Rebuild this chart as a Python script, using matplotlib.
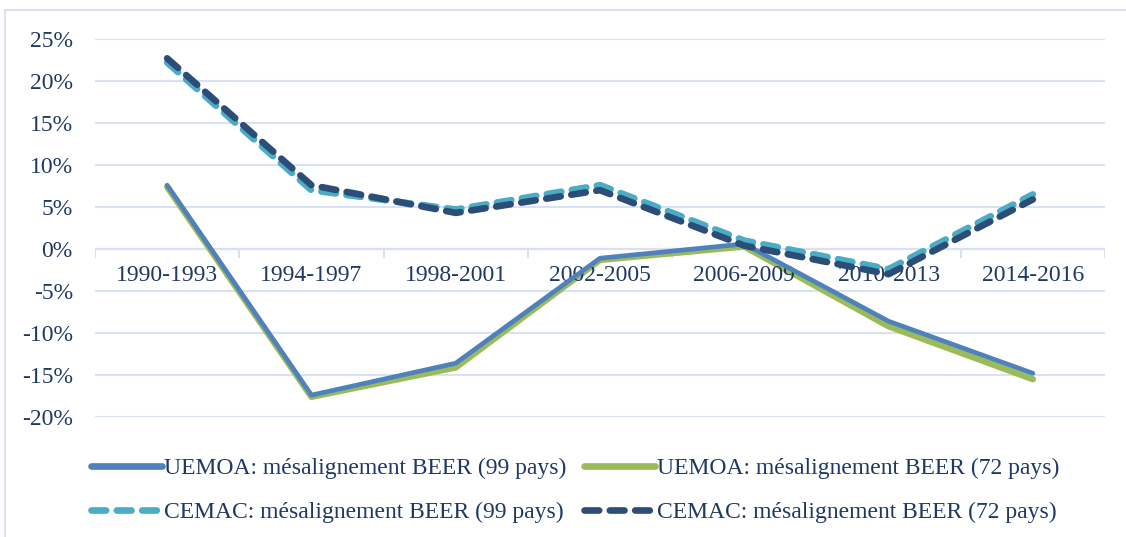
import matplotlib
matplotlib.use("Agg")
import matplotlib.pyplot as plt
from matplotlib.patches import Rectangle

# Data (misalignment, %)
periods = ['1990-1993', '1994-1997', '1998-2001', '2002-2005', '2006-2009', '2010-2013', '2014-2016']
uemoa_99 = [7.6, -17.4, -13.6, -1.1, 0.6, -8.6, -14.8]
uemoa_72 = [7.4, -17.6, -14.1, -1.3, 0.3, -9.2, -15.5]
cemac_99 = [22.2, 7.0, 4.7, 7.6, 1.0, -2.4, 6.5]
cemac_72 = [22.7, 7.6, 4.3, 7.0, 0.4, -3.0, 5.9]

labels = ['UEMOA: mésalignement BEER (99 pays)', 'UEMOA: mésalignement BEER (72 pays)',
          'CEMAC: mésalignement BEER (99 pays)', 'CEMAC: mésalignement BEER (72 pays)']
colors = ['#4F81BD', '#9BBB59', '#4BACC6', '#2C4D75']

TXT = '#203864'
GRID = '#D9E2F3'

plt.rcParams['font.family'] = ['Liberation Serif', 'DejaVu Serif']

fig = plt.figure(figsize=(11.26, 5.37), dpi=100)
fig.patches.append(Rectangle((5 / 1126, -0.1), 1.2, 1 - 10 / 537 + 0.1, transform=fig.transFigure,
                             fill=False, edgecolor=GRID, linewidth=1.5))
ax = fig.add_axes([95 / 1126, 1 - 417 / 537, 1010 / 1126, 378 / 537])

x = list(range(len(periods)))
l1, = ax.plot(x, uemoa_99, color=colors[0], lw=3.4, solid_capstyle='round', zorder=4)
l2, = ax.plot(x, uemoa_72, color=colors[1], lw=4.6, solid_capstyle='round', zorder=3)
l3, = ax.plot(x, cemac_99, color=colors[2], lw=4.8, ls=(0, (2.2, 1.6)), dash_capstyle='round', zorder=5)
l4, = ax.plot(x, cemac_72, color=colors[3], lw=4.8, ls=(0, (2.2, 1.6)), dash_capstyle='round', zorder=6)

ax.set_xlim(-0.5, len(periods) - 0.5)
ax.set_ylim(-20, 25)
ax.set_yticks(range(-20, 30, 5))
ax.set_yticklabels([f'{v}%' for v in range(-20, 30, 5)])
ax.grid(axis='y', color=GRID, lw=1.5)
ax.set_axisbelow(True)
for s in ax.spines.values():
    s.set_visible(False)
ax.tick_params(axis='y', length=0, pad=16, labelsize=17, labelcolor=TXT)

# category axis crossing at 0
ax.axhline(0, color=GRID, lw=1.5, zorder=1)
for b in [i - 0.5 for i in range(len(periods) + 1)]:
    ax.plot([b, b], [0, -0.9], color=GRID, lw=1.5, zorder=1)
ax.set_xticks([])
for i, p in enumerate(periods):
    ax.text(i, -1.9, p, ha='center', va='top', fontsize=17, color=TXT)

# row-major legend: reorder for matplotlib's column filling
leg = fig.legend([l1, l3, l2, l4], [labels[0], labels[2], labels[1], labels[3]],
                 loc='lower left', bbox_to_anchor=(70 / 1126, -0.014),
                 ncol=2, frameon=False, fontsize=17, handlelength=3.0, handletextpad=0.08,
                 columnspacing=0.75, labelspacing=0.95)
for t in leg.get_texts():
    t.set_color(TXT)
for h in leg.legend_handles:
    h.set_linewidth(4.8)

fig.savefig('out.png', dpi=100)
